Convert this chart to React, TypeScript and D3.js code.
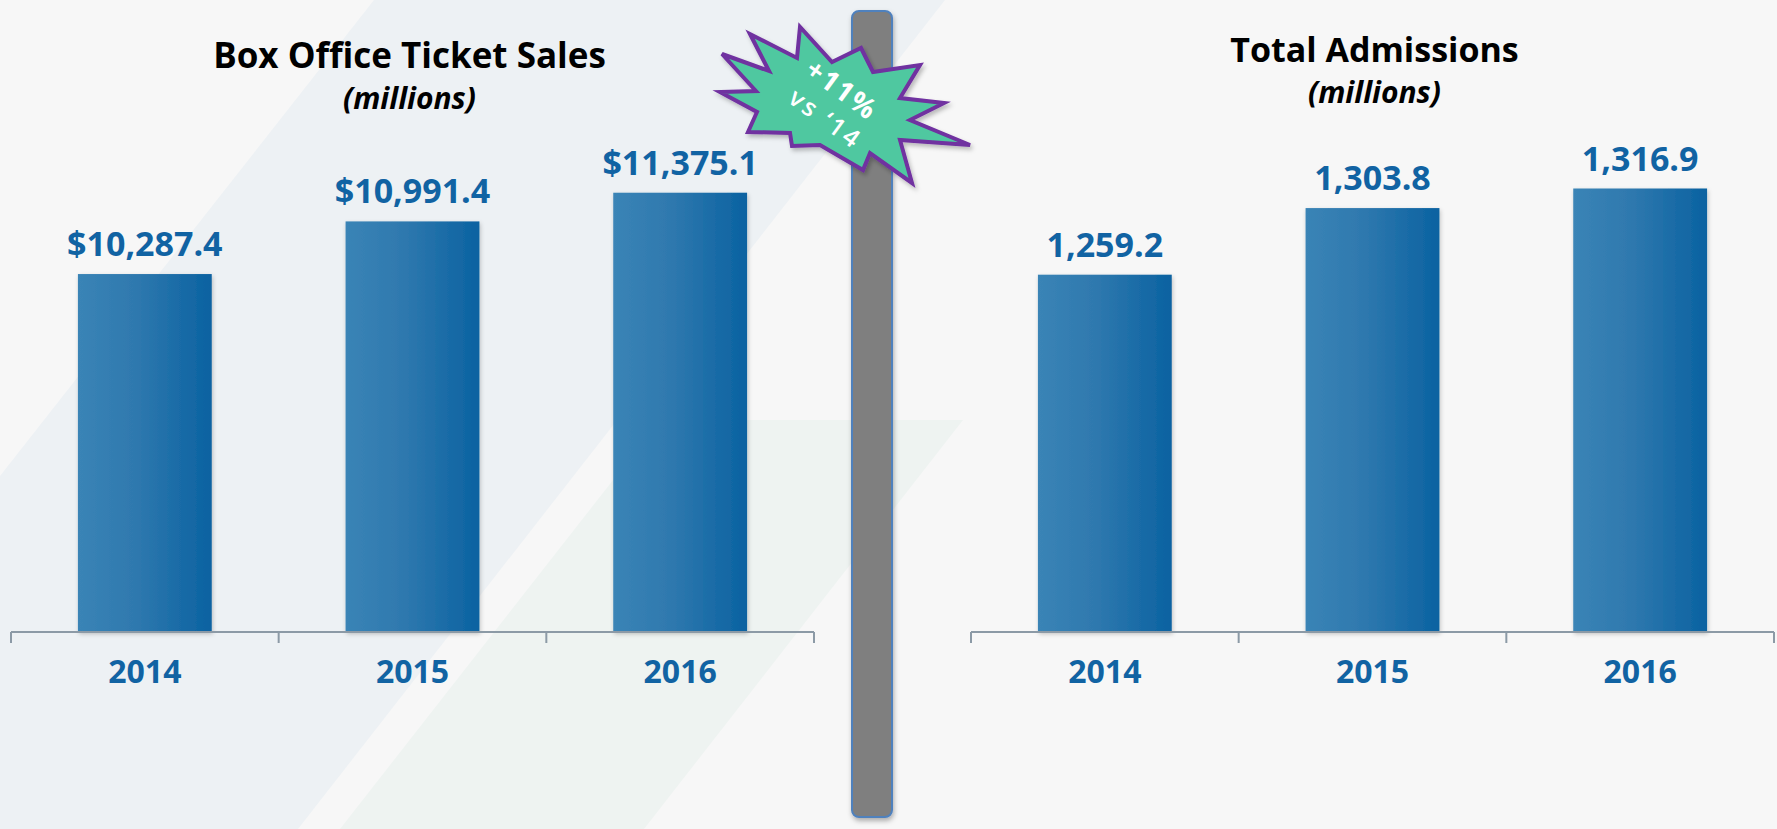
import React from 'react';
import * as d3 from 'd3';

const years = ['2014', '2015', '2016'];
const ticketSales = [10287.4, 10991.4, 11375.1];
const admissions = [1259.2, 1303.8, 1316.9];
const salesDomain = [5500, 12000];
const admissionsDomain = [1020, 1340];
const salesTitle = 'Box Office Ticket Sales';
const admissionsTitle = 'Total Admissions';
const subtitle = '(millions)';
const burstLines = ['+11%', 'vs \u201814'];

// starburst outline, offsets from its centre
const burst: [number, number][] = [
  [-40, -78], [-43, -47], [-90, -71], [-71, -34], [-118, -51], [-84, -14],
  [-120, -13], [-83, 7], [-92, 27], [-50, 28], [-48, 41], [-20, 40],
  [23, 65], [30, 48], [72, 78], [60, 35], [130, 40], [70, 15],
  [104, -2], [60, -7], [80, -40], [33, -33], [21, -57], [-8, -43],
];

const W = 1777;
const H = 829;
const FONT = "'Open Sans', 'DejaVu Sans', sans-serif";
const BLUE = '#1163a3';

type PanelProps = {
  x0: number; x1: number; baseline: number; top: number;
  values: number[]; domain: number[]; title: string; titleSize: number;
  titleY: number; subY: number; shift: number; fmt: (v: number) => string;
};

const Panel: React.FC<PanelProps> = ({ x0, x1, baseline, top, values, domain, title, titleSize, titleY, subY, shift, fmt }) => {
  const x = d3.scaleBand<string>().domain(years).range([x0, x1]).paddingInner(0.5).paddingOuter(0.25);
  const y = d3.scaleLinear().domain(domain).range([baseline, top]);
  const step = x.step();
  const bounds = d3.range(years.length + 1).map(i => x0 + i * step);
  const cx = (x0 + x1) / 2 + shift;
  return (
    <g>
      <text x={cx} y={titleY} textAnchor="middle" fontFamily={FONT} fontWeight={700} fontSize={titleSize} fill="#000">{title}</text>
      <text x={cx} y={subY} textAnchor="middle" fontFamily={FONT} fontWeight={700} fontStyle="italic" fontSize={30} fill="#000">{subtitle}</text>
      {values.map((v, i) => (
        <g key={years[i]}>
          <rect x={x(years[i])} y={y(v)} width={x.bandwidth()} height={baseline - y(v)} fill="url(#barGrad)" filter="url(#barShadow)" />
          <text x={(x(years[i]) as number) + x.bandwidth() / 2} y={y(v) - 18} textAnchor="middle" fontFamily={FONT} fontWeight={700} fontSize={34} fill={BLUE}>{fmt(v)}</text>
          <text x={(x(years[i]) as number) + x.bandwidth() / 2} y={683} textAnchor="middle" fontFamily={FONT} fontWeight={700} fontSize={32} fill={BLUE}>{years[i]}</text>
        </g>
      ))}
      <line x1={x0} x2={x1} y1={baseline} y2={baseline} stroke="#8c9aa6" strokeWidth={2} />
      {bounds.map(b => (
        <line key={b} x1={b} x2={b} y1={baseline} y2={baseline + 11} stroke="#8c9aa6" strokeWidth={2} />
      ))}
    </g>
  );
};

const App: React.FC = () => {
  const fmtSales = (v: number) => `$${d3.format(',.1f')(v)}`;
  const fmtAdm = (v: number) => d3.format(',.1f')(v);
  const bcx = 840;
  const bcy = 105;
  const burstPath = d3.line()(burst.map(([dx, dy]) => [bcx + dx, bcy + dy])) + 'Z';

  return (
    <div style={{ position: 'absolute', left: 0, top: 0 }}>
      <svg width={W} height={H} style={{ display: 'block' }}>
        <defs>
          <linearGradient id="barGrad" x1="0" x2="1" y1="0" y2="0">
            <stop offset="0" stopColor="#3a84b6" />
            <stop offset="0.45" stopColor="#2e78ae" />
            <stop offset="1" stopColor="#0a62a1" />
          </linearGradient>
          <filter id="barShadow" x="-10%" y="-5%" width="125%" height="115%">
            <feDropShadow dx="1" dy="2" stdDeviation="2" floodColor="#000" floodOpacity="0.22" />
          </filter>
          <filter id="dividerShadow" x="-30%" y="-5%" width="160%" height="110%">
            <feDropShadow dx="1" dy="3" stdDeviation="2.5" floodColor="#000" floodOpacity="0.3" />
          </filter>
          <filter id="burstShadow" x="-20%" y="-20%" width="140%" height="140%">
            <feDropShadow dx="2" dy="3" stdDeviation="2" floodColor="#000" floodOpacity="0.25" />
          </filter>
        </defs>

        <rect x={0} y={0} width={W} height={H} fill="#f7f7f7" />
        <polygon points="374,0 945,0 298,829 0,829 0,476" fill="#edf1f4" />
        <polygon points="660,420 963,420 644,829 340,829" fill="#eef3f1" />

        <Panel x0={11} x1={814} baseline={632} top={146} values={ticketSales} domain={salesDomain}
          title={salesTitle} titleSize={35} titleY={68} subY={109} shift={-3} fmt={fmtSales} />
        <Panel x0={971} x1={1774} baseline={632} top={154} values={admissions} domain={admissionsDomain}
          title={admissionsTitle} titleSize={34} titleY={62} subY={103} shift={2} fmt={fmtAdm} />

        <rect x={852} y={11} width={40} height={806} rx={7} fill="#7f7f7f" stroke="#4f81bd" strokeWidth={2} filter="url(#dividerShadow)" />

        <path d={burstPath} fill="#50c8a0" stroke="#7030a0" strokeWidth={4} strokeLinejoin="miter" filter="url(#burstShadow)" />
        <g transform={`translate(832,105) rotate(36)`}>
          <text x={-1} y={-16} textAnchor="middle" dominantBaseline="middle" fontFamily={FONT} fontWeight={700} fontSize={28} letterSpacing={2} fill="#fff">{burstLines[0]}</text>
          <text x={3} y={17} textAnchor="middle" dominantBaseline="middle" fontFamily={FONT} fontWeight={600} fontSize={25} letterSpacing={3} fill="#fff">{burstLines[1]}</text>
        </g>
      </svg>
    </div>
  );
};

export default App;
